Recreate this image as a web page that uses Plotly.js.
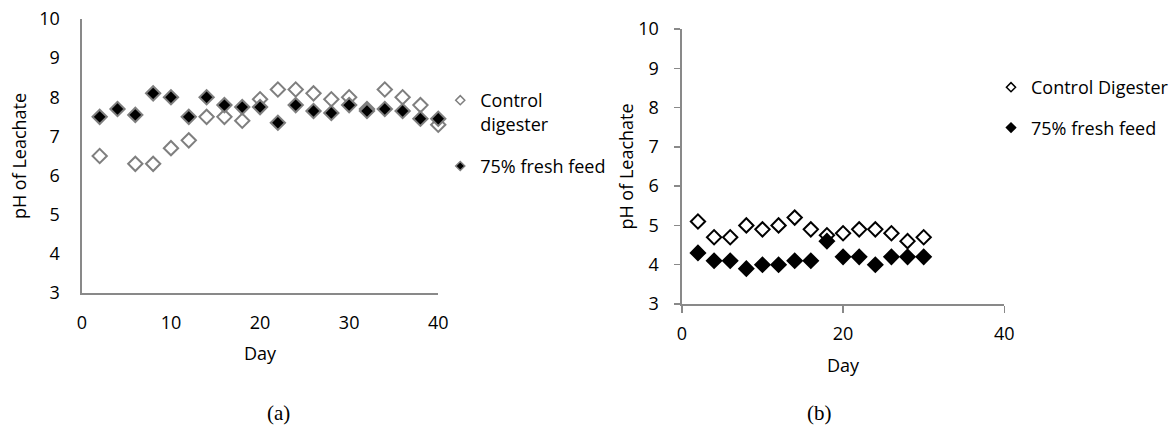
<!DOCTYPE html>
<html>
<head>
<meta charset="utf-8">
<script src="https://cdn.plot.ly/plotly-3.0.1.min.js"></script>
<style>html,body{margin:0;padding:0;background:#fff;}#chart{width:1174px;height:443px;}</style>
</head>
<body>
<div id="chart"></div>
<script>
// ---- Panel (a) ----
const daysA_control = [2, 6, 8, 10, 12, 14, 16, 18, 20, 22, 24, 26, 28, 30, 32, 34, 36, 38, 40];
const phA_control   = [6.5, 6.3, 6.3, 6.7, 6.9, 7.5, 7.5, 7.4, 7.95, 8.2, 8.2, 8.1, 7.95, 8.0, 7.7, 8.2, 8.0, 7.8, 7.3];
const daysA_fresh   = [2, 4, 6, 8, 10, 12, 14, 16, 18, 20, 22, 24, 26, 28, 30, 32, 34, 36, 38, 40];
const phA_fresh     = [7.5, 7.7, 7.55, 8.1, 8.0, 7.5, 8.0, 7.8, 7.75, 7.75, 7.35, 7.8, 7.65, 7.6, 7.8, 7.65, 7.7, 7.65, 7.45, 7.45];
// ---- Panel (b) ----
const daysB         = [2, 4, 6, 8, 10, 12, 14, 16, 18, 20, 22, 24, 26, 28, 30];
const phB_control   = [5.1, 4.7, 4.7, 5.0, 4.9, 5.0, 5.2, 4.9, 4.75, 4.8, 4.9, 4.9, 4.8, 4.6, 4.7];
const phB_fresh     = [4.3, 4.1, 4.1, 3.9, 4.0, 4.0, 4.1, 4.1, 4.6, 4.2, 4.2, 4.0, 4.2, 4.2, 4.2];
// labels
const namesA = ["Control<br>digester", "75% fresh feed"];
const namesB = ["Control Digester", "75% fresh feed"];
const captions = ["(a)", "(b)"];

const W = 1174, H = 443;
const px = v => v / W, py = v => 1 - v / H;
const FONT = "Open Sans, sans-serif";
const FS = 18;
const GRAY = "#7f7f7f";

const traces = [
  {x: daysA_control, y: phA_control, xaxis: "x", yaxis: "y", mode: "markers", type: "scatter", showlegend: false, cliponaxis: false,
   marker: {symbol: "diamond", size: 11, color: "#ffffff", line: {color: GRAY, width: 2}}},
  {x: daysA_fresh, y: phA_fresh, xaxis: "x", yaxis: "y", mode: "markers", type: "scatter", showlegend: false, cliponaxis: false,
   marker: {symbol: "diamond", size: 11, color: "#000000", line: {color: GRAY, width: 2}}},
  {x: daysB, y: phB_control, xaxis: "x2", yaxis: "y2", mode: "markers", type: "scatter", showlegend: false, cliponaxis: false,
   marker: {symbol: "diamond", size: 11, color: "#ffffff", line: {color: "#000000", width: 2}}},
  {x: daysB, y: phB_fresh, xaxis: "x2", yaxis: "y2", mode: "markers", type: "scatter", showlegend: false, cliponaxis: false,
   marker: {symbol: "diamond", size: 11, color: "#000000", line: {color: "#000000", width: 2}}},
  // legend entries
  {x: [null], y: [null], xaxis: "x", yaxis: "y", mode: "markers", type: "scatter", name: namesA[0], legend: "legend", legendgroup: "a1",
   marker: {symbol: "diamond", size: 7, color: "#ffffff", line: {color: GRAY, width: 1.5}}},
  {x: [null], y: [null], xaxis: "x", yaxis: "y", mode: "markers", type: "scatter", name: namesA[1], legend: "legend", legendgroup: "a2",
   marker: {symbol: "diamond", size: 7, color: "#000000", line: {color: GRAY, width: 1.5}}},
  {x: [null], y: [null], xaxis: "x2", yaxis: "y2", mode: "markers", type: "scatter", name: namesB[0], legend: "legend2", legendgroup: "b1",
   marker: {symbol: "diamond", size: 7, color: "#ffffff", line: {color: "#000000", width: 1.5}}},
  {x: [null], y: [null], xaxis: "x2", yaxis: "y2", mode: "markers", type: "scatter", name: namesB[1], legend: "legend2", legendgroup: "b2",
   marker: {symbol: "diamond", size: 7, color: "#000000", line: {color: "#000000", width: 1.5}}}
];

const axisFont = {family: FONT, size: FS, color: "#000"};
const baseX = {range: [0, 40], showgrid: false, zeroline: false, showline: true, linecolor: "#898989", linewidth: 1.5,
  tickfont: axisFont, fixedrange: true};
const baseY = {range: [3, 10], dtick: 1, showgrid: false, zeroline: false, showline: true, linecolor: "#898989", linewidth: 1.5,
  tickfont: axisFont, fixedrange: true};

const layout = {
  width: W, height: H,
  margin: {l: 0, r: 0, t: 0, b: 0},
  paper_bgcolor: "#fff", plot_bgcolor: "#fff",
  font: {family: FONT, size: FS, color: "#000"},
  xaxis: Object.assign({}, baseX, {domain: [px(82), px(439)], anchor: "y", dtick: 10, ticks: "", ticklabelstandoff: 13,
    title: {text: "Day", font: axisFont, standoff: 14}}),
  yaxis: Object.assign({}, baseY, {domain: [py(293), py(19)], anchor: "x", ticks: "", ticklabelstandoff: 17,
    title: {text: "pH of Leachate", font: axisFont, standoff: 8}}),
  xaxis2: Object.assign({}, baseX, {domain: [px(683), px(1006)], anchor: "y2", dtick: 20, ticks: "outside", ticklen: 7, tickcolor: "#898989", tickwidth: 1.5, ticklabelstandoff: 6,
    title: {text: "Day", font: axisFont, standoff: 15}}),
  yaxis2: Object.assign({}, baseY, {domain: [py(304), py(29)], anchor: "x2", ticks: "outside", ticklen: 6, tickcolor: "#898989", tickwidth: 1.5, ticklabelstandoff: 12,
    title: {text: "pH of Leachate", font: axisFont, standoff: 0}}),
  legend: {x: px(441), xanchor: "left", y: py(82), yanchor: "top", bgcolor: "rgba(0,0,0,0)", font: {family: FONT, size: FS, color: "#000"},
    tracegroupgap: 16, valign: "top", itemwidth: 30},
  legend2: {x: px(993), xanchor: "left", y: py(69), yanchor: "top", bgcolor: "rgba(0,0,0,0)", font: {family: FONT, size: FS, color: "#000"},
    tracegroupgap: 14, valign: "top", itemwidth: 30},
  annotations: [
    {text: captions[0], x: px(265), y: py(427), xref: "paper", yref: "paper", showarrow: false, font: {family: "Liberation Serif, serif", size: 21, color: "#000"}},
    {text: captions[1], x: px(835), y: py(427), xref: "paper", yref: "paper", showarrow: false, font: {family: "Liberation Serif, serif", size: 21, color: "#000"}}
  ]
};

Plotly.newPlot("chart", traces, layout, {displayModeBar: false, staticPlot: true});
</script>
</body>
</html>
